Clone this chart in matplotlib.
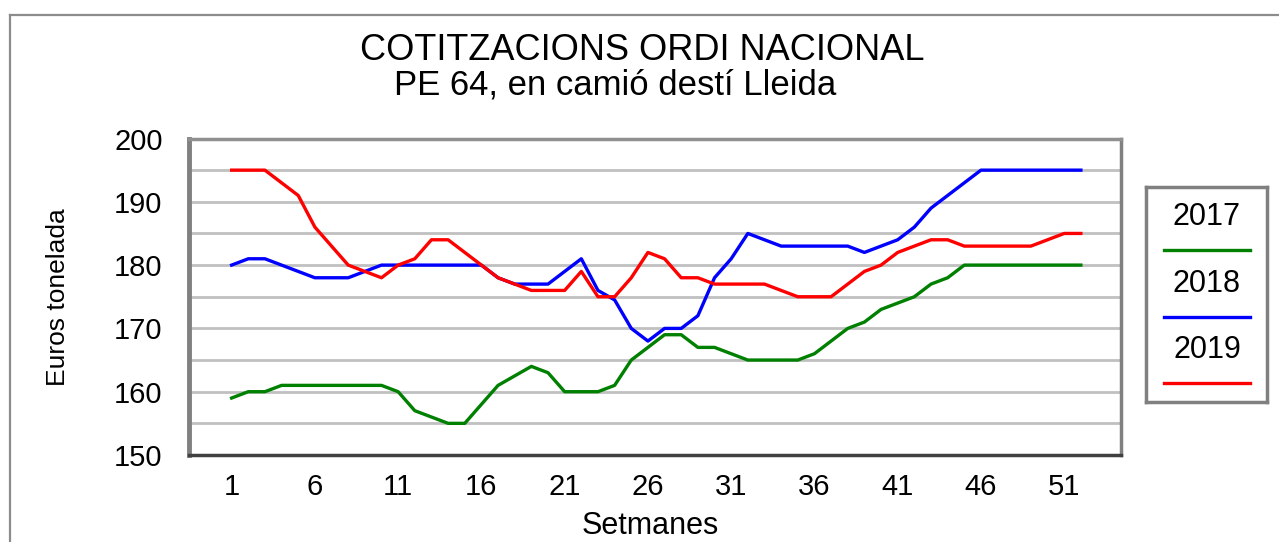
import matplotlib
matplotlib.use('Agg')
import matplotlib.pyplot as plt
from matplotlib.lines import Line2D
from matplotlib.ticker import MultipleLocator

plt.rcParams['font.family'] = ['Liberation Sans', 'DejaVu Sans']

weeks = list(range(1, 53))
tick_weeks = list(range(1, 53, 5))

v2017 = [159, 160, 160, 161, 161, 161, 161, 161, 161, 161,
         160, 157, 156, 155, 155, 158, 161, 162.5, 164, 163,
         160, 160, 160, 161, 165, 167, 169, 169, 167, 167,
         166, 165, 165, 165, 165, 166, 168, 170, 171, 173,
         174, 175, 177, 178, 180, 180, 180, 180, 180, 180,
         180, 180]
v2018 = [180, 181, 181, 180, 179, 178, 178, 178, 179, 180,
         180, 180, 180, 180, 180, 180, 178, 177, 177, 177,
         179, 181, 176, 174.5, 170, 168, 170, 170, 172, 178,
         181, 185, 184, 183, 183, 183, 183, 183, 182, 183,
         184, 186, 189, 191, 193, 195, 195, 195, 195, 195,
         195, 195]
v2019 = [195, 195, 195, 193, 191, 186, 183, 180, 179, 178,
         180, 181, 184, 184, 182, 180, 178, 177, 176, 176,
         176, 179, 175, 175, 178, 182, 181, 178, 178, 177,
         177, 177, 177, 176, 175, 175, 175, 177, 179, 180,
         182, 183, 184, 184, 183, 183, 183, 183, 183, 184,
         185, 185]

series = [('2017', v2017, '#008000'),
          ('2018', v2018, '#0000ff'),
          ('2019', v2019, '#ff0000')]

W, H = 1279, 542
fig = plt.figure(figsize=(W / 100, H / 100), dpi=100)

# outer frame (only top and left edges are visible in the picture)
fig.add_artist(Line2D([10 / W, 1], [1 - 15 / H] * 2, transform=fig.transFigure,
                      color='#8c8c8c', lw=1.6))
fig.add_artist(Line2D([10 / W] * 2, [0, 1 - 15 / H], transform=fig.transFigure,
                      color='#8c8c8c', lw=1.6))

ax = fig.add_axes([189 / W, 87 / H, 932 / W, 316.5 / H])
lines = []
for lab, vals, col in series:
    ln, = ax.plot(weeks, vals, color=col, lw=2.4, label=lab)
    lines.append(ln)

ax.set_xlim(-1.56, 54.41)
ax.set_ylim(150, 200)
ax.set_xticks(tick_weeks)
ax.yaxis.set_major_locator(MultipleLocator(10))
ax.yaxis.set_minor_locator(MultipleLocator(5))
ax.grid(axis='y', which='both', color='#c0c0c0', lw=2)
ax.set_axisbelow(True)
ax.tick_params(which='both', length=0, labelsize=21)
ax.tick_params(axis='x', pad=13)
ax.tick_params(axis='y', pad=19)

ax.spines['left'].set_color('#808080')
ax.spines['left'].set_linewidth(3.5)
ax.spines['top'].set_color('#909090')
ax.spines['top'].set_linewidth(2.5)
ax.spines['right'].set_color('#808080')
ax.spines['right'].set_linewidth(2.5)
ax.spines['bottom'].set_color('#404040')
ax.spines['bottom'].set_linewidth(2.5)

fig.text(642 / W, 1 - 50 / H, 'COTITZACIONS ORDI NACIONAL', ha='center', va='center',
         fontsize=26)
fig.text(615 / W, 1 - 85 / H, 'PE 64, en camió destí Lleida', ha='center', va='center',
         fontsize=25)
fig.text(58 / W, 1 - 297 / H, 'Euros tonelada', rotation=90, ha='center', va='center',
         fontsize=19)
fig.text(650 / W, 1 - 526 / H, 'Setmanes', ha='center', va='center', fontsize=22)

# legend: label above its line sample, in a grey box
lg = fig.add_axes([1146 / W, 1 - 402 / H, 121 / W, 215 / H])
lg.set_xlim(0, 121)
lg.set_ylim(215, 0)
lg.set_xticks([])
lg.set_yticks([])
for s in lg.spines.values():
    s.set_color('#808080')
    s.set_linewidth(2.5)
for i, ln in enumerate(lines):
    y_line = 63 + i * 66.5
    lg.text(61, y_line - 33, ln.get_label(), ha='center', va='center', fontsize=22)
    lg.plot([18, 104], [y_line, y_line], color=ln.get_color(), lw=2.4)

fig.savefig('out.png', dpi=100)
